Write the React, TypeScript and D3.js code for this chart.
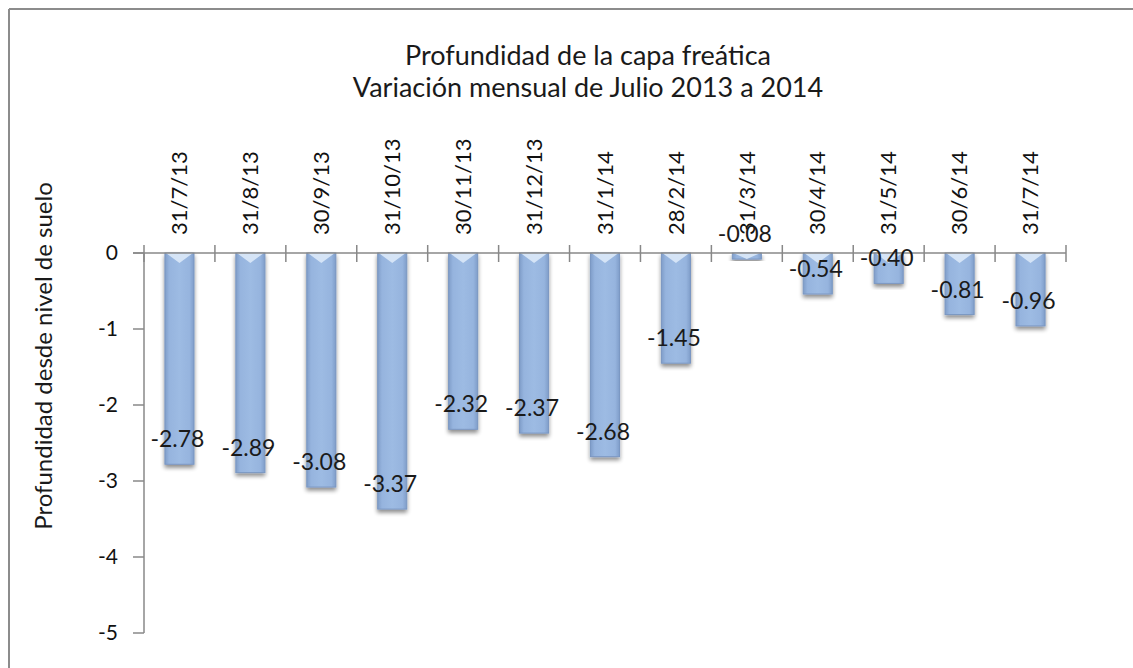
import React from 'react';
import { scaleBand, scaleLinear } from 'd3';

const fechas = ['31/7/13', '31/8/13', '30/9/13', '31/10/13', '30/11/13', '31/12/13', '31/1/14', '28/2/14', '31/3/14', '30/4/14', '31/5/14', '30/6/14', '31/7/14'];
const profundidad = [-2.78, -2.89, -3.08, -3.37, -2.32, -2.37, -2.68, -1.45, -0.08, -0.54, -0.40, -0.81, -0.96];
const yTicks = [0, -1, -2, -3, -4, -5];
const titulo = ['Profundidad de la capa freática', 'Variación mensual de Julio 2013  a 2014'];
const ejeY = 'Profundidad desde nivel de suelo';

const width = 1133;
const height = 668;
const margin = { top: 253, right: 67, bottom: 35, left: 144 };
const font = 'Lato, "Open Sans", sans-serif';

const App = () => {
  const data = fechas.map((f, i) => ({ fecha: f, valor: profundidad[i] }));

  const xScale = scaleBand()
    .domain(fechas)
    .range([margin.left, width - margin.right])
    .paddingInner(0.59)
    .paddingOuter(0.295);

  const yScale = scaleLinear()
    .domain([-5, 0])
    .range([height - margin.bottom, margin.top]);

  const step = xScale.step();
  const y0 = yScale(0);
  const bw = xScale.bandwidth();

  return (
    <svg width={width} height={height} style={{ position: 'absolute', left: 0, top: 0, background: '#fff' }}>
      <defs>
        <linearGradient id="barra" x1="0" x2="1" y1="0" y2="0">
          <stop offset="0" stopColor="#7f9dc9" />
          <stop offset="0.15" stopColor="#96b4de" />
          <stop offset="0.5" stopColor="#9dbbe3" />
          <stop offset="0.85" stopColor="#96b4de" />
          <stop offset="1" stopColor="#7f9dc9" />
        </linearGradient>
        <filter id="sombra" x="-30%" y="-10%" width="160%" height="130%">
          <feGaussianBlur in="SourceAlpha" stdDeviation="2" />
          <feOffset dx="0" dy="3" result="b" />
          <feComponentTransfer><feFuncA type="linear" slope="0.45" /></feComponentTransfer>
          <feMerge><feMergeNode /><feMergeNode in="SourceGraphic" /></feMerge>
        </filter>
      </defs>

      {/* marco */}
      <line x1={9} y1={9} x2={width} y2={9} stroke="#8c8c8c" strokeWidth={2} />
      <line x1={9} y1={9} x2={9} y2={height} stroke="#8c8c8c" strokeWidth={2} />

      {titulo.map((t, i) => (
        <text key={t} x={588} y={65 + i * 32} textAnchor="middle" fontFamily={font} fontSize={27} fill="#1a1a1a">
          {t}
        </text>
      ))}

      <text
        transform={`translate(52, 356) rotate(-90)`}
        textAnchor="middle"
        fontFamily={font}
        fontSize={24}
        fill="#1a1a1a"
      >
        {ejeY}
      </text>

      {/* eje y */}
      <line x1={margin.left} y1={y0} x2={margin.left} y2={yScale(-5)} stroke="#888" strokeWidth={1.5} />
      {yTicks.map(t => (
        <g key={t} transform={`translate(0, ${yScale(t)})`}>
          <line x1={margin.left - 11} x2={margin.left} stroke="#888" strokeWidth={1.5} />
          <text x={118} dy="0.35em" textAnchor="end" fontFamily={font} fontSize={21} fill="#111">
            {t}
          </text>
        </g>
      ))}

      {/* barras */}
      {data.map(d => {
        const x = xScale(d.fecha) as number;
        const yb = yScale(d.valor);
        const h = yb - y0;
        const tip = Math.min(10, h);
        return (
          <g key={d.fecha}>
            <g filter="url(#sombra)">
              <rect x={x} y={y0} width={bw} height={h} fill="url(#barra)" stroke="#7a97c2" strokeWidth={1} />
            </g>
            <polygon
              points={`${x + 1},${y0} ${x + bw - 1},${y0} ${x + bw / 2},${y0 + tip}`}
              fill="#dce9f8"
              opacity={0.9}
            />
          </g>
        );
      })}

      {/* eje x */}
      <line x1={margin.left - 11} y1={y0} x2={width - margin.right} y2={y0} stroke="#888" strokeWidth={1.5} />
      {fechas.concat(['']).map((f, i) => (
        <line
          key={'t' + i}
          x1={margin.left + i * step}
          x2={margin.left + i * step}
          y1={y0 - 8}
          y2={y0 + 9}
          stroke="#888"
          strokeWidth={1.5}
        />
      ))}
      {fechas.map(f => (
        <text
          key={f}
          transform={`translate(${(xScale(f) as number) + bw / 2}, 235) rotate(-90)`}
          dy="0.35em"
          fontFamily={font}
          fontSize={22}
          fill="#111"
        >
          {f}
        </text>
      ))}

      {/* etiquetas */}
      {data.map(d => (
        <text
          key={'v' + d.fecha}
          x={(xScale(d.fecha) as number) + bw / 2 - 2}
          y={yScale(d.valor) - 25}
          dy="0.35em"
          textAnchor="middle"
          fontFamily={font}
          fontSize={23}
          fill="#1a1a1a"
        >
          {d.valor.toFixed(2)}
        </text>
      ))}
    </svg>
  );
};

export default App;
